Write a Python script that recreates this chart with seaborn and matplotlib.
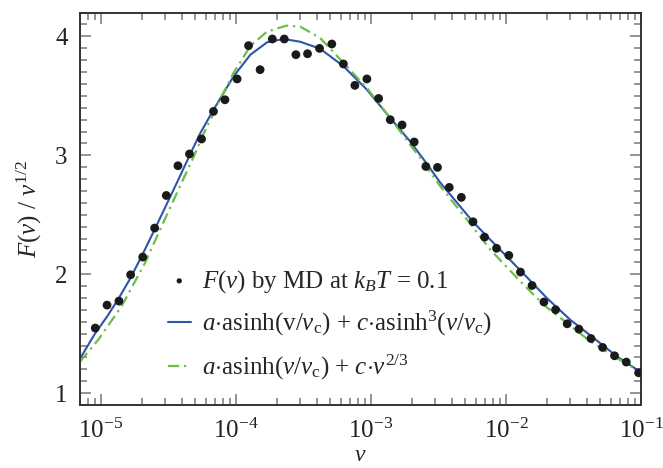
import numpy as np
import pandas as pd
import matplotlib
matplotlib.use("Agg")
import matplotlib.pyplot as plt
import seaborn as sns
from matplotlib.ticker import LogLocator, MultipleLocator, NullFormatter

# ---- data ----
md_v = [9.08e-6, 1.11e-5, 1.36e-5, 1.66e-5, 2.04e-5, 2.50e-5, 3.05e-5, 3.72e-5,
        4.53e-5, 5.56e-5, 6.82e-5, 8.29e-5, 1.02e-4, 1.24e-4, 1.51e-4, 1.86e-4,
        2.28e-4, 2.78e-4, 3.39e-4, 4.16e-4, 5.13e-4, 6.25e-4, 7.60e-4, 9.33e-4,
        1.14e-3, 1.39e-3, 1.70e-3, 2.09e-3, 2.55e-3, 3.11e-3, 3.80e-3, 4.67e-3,
        5.70e-3, 6.94e-3, 8.51e-3, 1.05e-2, 1.28e-2, 1.56e-2, 1.91e-2, 2.33e-2,
        2.84e-2, 3.47e-2, 4.26e-2, 5.20e-2, 6.37e-2, 7.78e-2, 9.60e-2]
md_F = [1.547, 1.740, 1.774, 1.995, 2.144, 2.388, 2.662, 2.912,
        3.011, 3.137, 3.369, 3.467, 3.642, 3.922, 3.720, 3.978,
        3.978, 3.846, 3.854, 3.899, 3.936, 3.768, 3.588, 3.642,
        3.478, 3.299, 3.255, 3.112, 2.906, 2.898, 2.730, 2.646,
        2.441, 2.312, 2.218, 2.158, 2.018, 1.905, 1.766, 1.701,
        1.583, 1.538, 1.459, 1.384, 1.314, 1.261, 1.171]

fit1_v = [7.0e-6, 9.04e-6, 1.12e-5, 1.36e-5, 1.66e-5, 2.00e-5, 2.51e-5, 3.74e-5,
          4.69e-5, 5.45e-5, 6.82e-5, 9.59e-5, 1.28e-4, 1.70e-4, 2.25e-4, 2.99e-4,
          4.21e-4, 6.27e-4, 9.33e-4, 1.39e-3, 1.95e-3, 2.60e-3, 3.26e-3, 5.75e-3,
          8.57e-3, 1.28e-2, 2.01e-2, 2.99e-2, 4.22e-2, 6.64e-2, 1.0e-1]
fit1_F = [1.290, 1.500, 1.650, 1.800, 1.970, 2.150, 2.380, 2.794,
          3.033, 3.187, 3.383, 3.663, 3.846, 3.950, 3.978, 3.955,
          3.896, 3.748, 3.552, 3.313, 3.117, 2.927, 2.770, 2.435,
          2.233, 2.031, 1.799, 1.617, 1.485, 1.308, 1.175]

fit2_v = [7.0e-6, 9.55e-6, 1.42e-5, 2.12e-5, 2.74e-5, 3.95e-5, 4.83e-5, 5.75e-5,
          7.41e-5, 9.59e-5, 1.28e-4, 1.70e-4, 2.36e-4, 2.99e-4, 4.21e-4, 6.27e-4,
          9.33e-4, 1.39e-3, 1.95e-3, 2.32e-3, 3.26e-3, 5.75e-3, 7.66e-3, 1.28e-2,
          1.90e-2, 2.83e-2, 4.22e-2, 6.64e-2, 1.0e-1]
fit2_F = [1.265, 1.448, 1.729, 2.094, 2.374, 2.767, 2.980, 3.180,
          3.440, 3.692, 3.920, 4.040, 4.090, 4.082, 3.986, 3.776,
          3.566, 3.313, 3.089, 2.977, 2.740, 2.390, 2.206, 1.939,
          1.743, 1.589, 1.434, 1.294, 1.175]

x_ticks = [1e-5, 1e-4, 1e-3, 1e-2, 1e-1]
y_ticks = [1, 2, 3, 4]

lbl_md = r"$\mathit{F}(\mathit{v})$ by MD at $\mathit{k}_{\mathit{B}}\mathit{T}$ = 0.1"
lbl_fit1 = r"$\mathit{a}$$\cdot$asinh(v/$\mathit{v}_{\rm c}$) + $\mathit{c}$$\cdot$asinh$^3$($\mathit{v}$/$\mathit{v}_{\rm c}$)"
lbl_fit2 = r"$\mathit{a}$$\cdot$asinh($\mathit{v}$/$\mathit{v}_{\rm c}$) + $\mathit{c}$$\cdot$$\mathit{v}^{2/3}$"

# ---- style ----
sns.set_theme(style="ticks")
plt.rcParams["font.family"] = ["Liberation Serif", "DejaVu Serif"]
plt.rcParams["mathtext.fontset"] = "custom"
plt.rcParams["mathtext.rm"] = "Liberation Serif"
plt.rcParams["mathtext.it"] = "Liberation Serif:italic"
plt.rcParams["mathtext.bf"] = "Liberation Serif:bold"
plt.rcParams["axes.unicode_minus"] = False

fig = plt.figure(figsize=(6.63, 4.68), dpi=100)
ax = fig.add_axes([80 / 663, 1 - 405 / 468, (641 - 80) / 663, (405 - 12.6) / 468])

df_md = pd.DataFrame({"v": md_v, "F": md_F})
df_f1 = pd.DataFrame({"v": fit1_v, "F": fit1_F})
df_f2 = pd.DataFrame({"v": fit2_v, "F": fit2_F})

blue = "#2f54aa"
green = "#6abf45"

sns.lineplot(data=df_f1, x="v", y="F", ax=ax, color=blue, lw=1.5,
             label=lbl_fit1, sort=False, zorder=2)
sns.lineplot(data=df_f2, x="v", y="F", ax=ax, color=green, lw=1.6,
             linestyle=(0, (5, 2.2, 1, 2.2)), label=lbl_fit2, sort=False, zorder=2)
sns.scatterplot(data=df_md, x="v", y="F", ax=ax, color="#1a1a1a", s=40,
                edgecolor="none", label=lbl_md, zorder=3)

ax.set_xscale("log")
ax.set_xlim(7.0e-6, 1e-1)
ax.set_ylim(0.9, 4.2)
ax.set_xticks(x_ticks)
ax.xaxis.set_minor_locator(LogLocator(base=10, subs=np.arange(2, 10), numticks=20))
ax.xaxis.set_minor_formatter(NullFormatter())
ax.set_yticks(y_ticks)
ax.yaxis.set_minor_locator(MultipleLocator(0.1))

ax.tick_params(which="both", direction="in", top=True, right=True, colors="#777777",
               labelcolor="#222222", width=1.1)
ax.tick_params(which="major", length=8, labelsize=18)
ax.tick_params(which="minor", length=5)
ax.tick_params(axis="x", which="major", pad=10)
ax.tick_params(axis="y", which="major", pad=9)
for s in ax.spines.values():
    s.set_color("#333333")
    s.set_linewidth(1.4)

ax.set_xlabel(r"$\mathit{v}$", fontsize=17, labelpad=1)
ax.set_ylabel(r"$\mathit{F}(\mathit{v})$ / $\mathit{v}^{1/2}$", fontsize=18, labelpad=8)

h, l = ax.get_legend_handles_labels()
order = [2, 0, 1]
leg = ax.legend([h[i] for i in order], [l[i] for i in order],
                loc="upper left", bbox_to_anchor=(168 / 663, 1 - 268 / 468),
                bbox_transform=fig.transFigure, frameon=False, fontsize=18,
                handlelength=0.9, handletextpad=0.45, labelspacing=0.58,
                borderpad=0, borderaxespad=0, markerscale=0.6)

fig.savefig("out.png", dpi=100)
